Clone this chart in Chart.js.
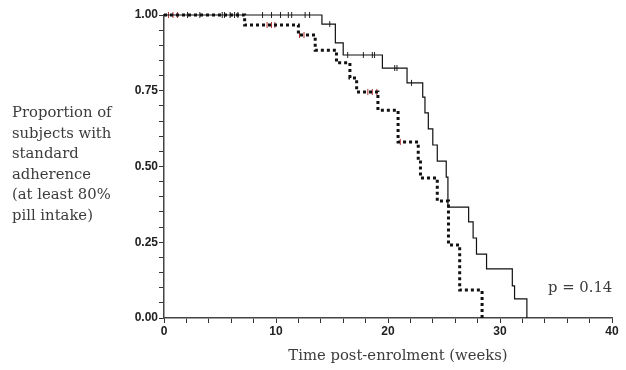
<!DOCTYPE html>
<html>
<head>
<meta charset="utf-8">
<script src="https://cdn.jsdelivr.net/npm/chart.js@4/dist/chart.umd.min.js"></script>
<style>
  html, body { margin: 0; padding: 0; background: #fff; }
  #wrap { position: relative; width: 626px; height: 370px; }
  .serif { position: absolute; font-family: 'DejaVu Serif', serif; font-size: 14.8px; color: #3c3c3c; line-height: 20.6px; white-space: nowrap; }
  #ytitle { left: 12px; top: 102px; }
  #xtitle { left: 174px; width: 448px; top: 345px; text-align: center; }
  #pval { left: 548px; top: 277px; }
</style>
</head>
<body>
<div id="wrap">
  <canvas id="km" width="626" height="370"></canvas>
  <div id="ytitle" class="serif">Proportion of<br>subjects with<br>standard<br>adherence<br>(at least 80%<br>pill intake)</div>
  <div id="xtitle" class="serif">Time post-enrolment (weeks)</div>
  <div id="pval" class="serif">p = 0.14</div>
</div>
<script>
// Kaplan-Meier step points (weeks, proportion)
const solidTimes = [0, 14.1, 15.3, 16.0, 19.5, 21.7, 23.1, 23.3, 23.6, 24.0, 24.4, 25.2, 25.35, 27.2, 27.6, 27.9, 28.8, 31.1, 31.3, 32.4];
const solidSurv  = [1, 0.970, 0.908, 0.868, 0.825, 0.776, 0.729, 0.677, 0.624, 0.571, 0.518, 0.465, 0.366, 0.317, 0.264, 0.211, 0.162, 0.106, 0.063, 0];

const dottedTimes = [0, 7.2, 12.0, 13.5, 15.4, 16.6, 17.2, 19.1, 20.9, 22.7, 22.9, 24.4, 25.4, 26.4, 28.4];
const dottedSurv  = [1, 0.967, 0.934, 0.884, 0.842, 0.792, 0.746, 0.686, 0.581, 0.515, 0.462, 0.386, 0.241, 0.092, 0];

// censored observations
const solidCensorTimes = [2.1, 3.2, 5.2, 5.4, 5.9, 6.3, 6.6, 8.8, 9.6, 10.4, 11.1, 11.4, 12.6, 13.0, 14.8, 16.4, 17.8, 18.6, 18.8, 20.6, 20.8, 22.1];
const solidCensorSurv  = [1, 1, 1, 1, 1, 1, 1, 1, 1, 1, 1, 1, 1, 1, 0.970, 0.868, 0.868, 0.868, 0.868, 0.825, 0.825, 0.776];
const dottedCensorTimes = [0.4, 0.8, 1.2, 9.2, 9.6, 9.9, 12.1, 12.5, 18.2, 18.6, 19.0, 21.1];
const dottedCensorSurv  = [1, 1, 1, 0.967, 0.967, 0.967, 0.934, 0.934, 0.746, 0.746, 0.746, 0.581];

const xMin = 0, xMax = 40, xStep = 2, xLabelEvery = 10;
const yMin = 0, yMax = 1, yStep = 0.05, yLabelEvery = 0.25;

const toPoints = (xs, ys) => xs.map((x, i) => ({ x: x, y: ys[i] }));

const tickFont = { family: "'Liberation Sans', Arial, sans-serif", size: 12, weight: 'bold' };

new Chart(document.getElementById('km'), {
  type: 'line',
  data: {
    datasets: [
      {
        data: toPoints(solidTimes, solidSurv),
        stepped: true,
        borderColor: '#111',
        borderWidth: 1.2,
        pointRadius: 0,
        fill: false,
        clip: false
      },
      {
        data: toPoints(dottedTimes, dottedSurv),
        stepped: true,
        borderColor: '#111',
        borderWidth: 3,
        borderDash: [3, 3],
        pointRadius: 0,
        fill: false,
        clip: false
      },
      {
        data: toPoints(solidCensorTimes, solidCensorSurv),
        showLine: false,
        pointStyle: 'line',
        rotation: 90,
        pointRadius: 3,
        borderColor: '#222',
        borderWidth: 1,
        clip: false
      },
      {
        data: toPoints(dottedCensorTimes, dottedCensorSurv),
        showLine: false,
        pointStyle: 'line',
        rotation: 90,
        pointRadius: 3,
        borderColor: '#b03030',
        borderWidth: 1,
        clip: false
      }
    ]
  },
  options: {
    responsive: false,
    animation: false,
    events: [],
    layout: { padding: { left: 0, right: 14, top: 15, bottom: 0 } },
    plugins: {
      legend: { display: false },
      tooltip: { enabled: false }
    },
    scales: {
      x: {
        type: 'linear',
        min: xMin,
        max: xMax,
        afterFit(scale) { scale.height = 52; },
        grid: { drawOnChartArea: false, drawTicks: true, tickLength: 5, color: '#333', lineWidth: 1 },
        border: { color: '#444', width: 1.5 },
        ticks: {
          stepSize: xStep,
          autoSkip: false,
          maxRotation: 0,
          padding: 1,
          color: '#222',
          font: tickFont,
          callback: v => (v % xLabelEvery === 0 ? String(v) : '')
        }
      },
      y: {
        type: 'linear',
        min: yMin,
        max: yMax,
        afterFit(scale) { scale.width = 164; },
        grid: { drawOnChartArea: false, drawTicks: true, tickLength: 5, color: '#333', lineWidth: 1 },
        border: { color: '#444', width: 1.5 },
        ticks: {
          stepSize: yStep,
          autoSkip: false,
          padding: 1,
          color: '#222',
          font: tickFont,
          callback: v => (Math.round(v * 100) % Math.round(yLabelEvery * 100) === 0 ? v.toFixed(2) : '')
        }
      }
    }
  }
});
</script>
</body>
</html>
